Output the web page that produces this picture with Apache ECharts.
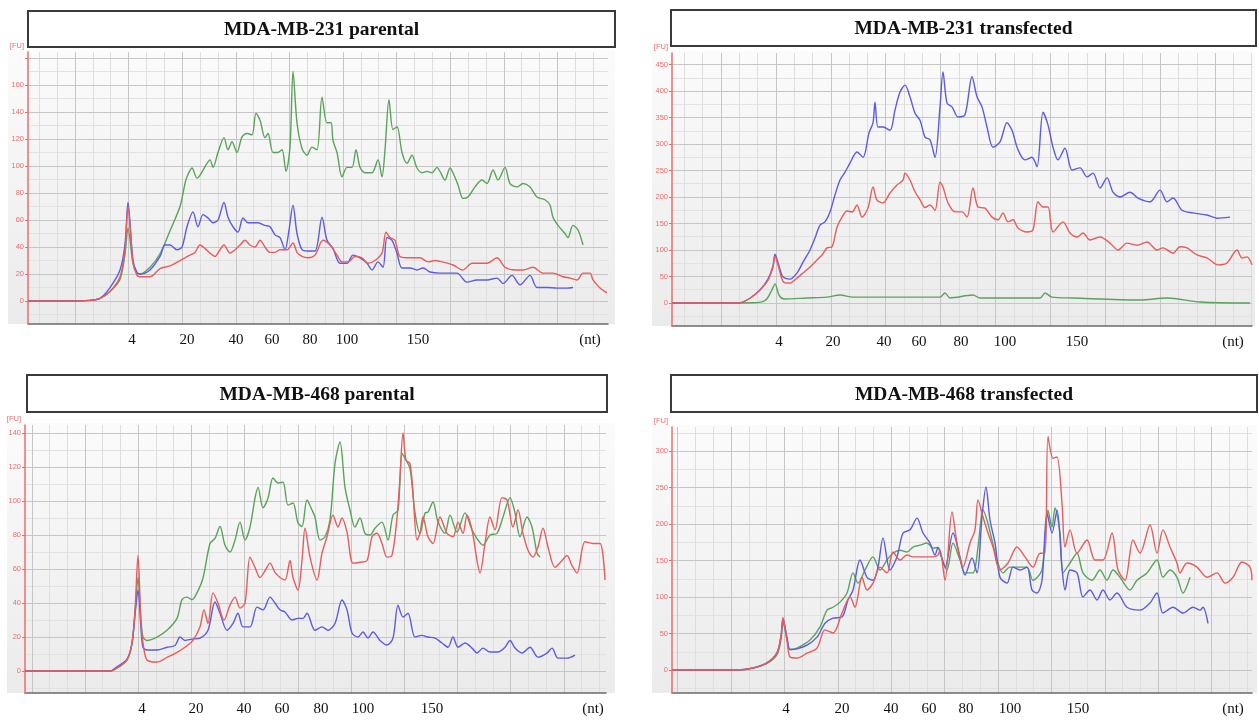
<!DOCTYPE html>
<html>
<head>
<meta charset="utf-8">
<script src="https://cdn.jsdelivr.net/npm/echarts@6/dist/echarts.min.js"></script>
<style>
  html, body { margin: 0; padding: 0; background: #fff; }
  #chart { width: 1259px; height: 723px; }
</style>
</head>
<body>
<div id="chart"></div>
<script>
// ---- data (x = migration time index, y = fluorescence [FU]) ----
const titles = ['MDA-MB-231 parental', 'MDA-MB-231 transfected', 'MDA-MB-468 parental', 'MDA-MB-468 transfected'];
const ntLabels = ['4', '20', '40', '60', '80', '100', '150', '(nt)'];
// where each size label sits on the time axis of each panel
const ntPos = [
  [104, 159, 208, 244, 282, 319, 390, 562],
  [107, 161, 212, 247, 289, 333, 405, 561],
  [117, 171, 219, 257, 296, 338, 407, 568],
  [114, 170, 219, 257, 294, 338, 406, 561]
];
const yLabels = [
  [0, 20, 40, 60, 80, 100, 120, 140, 160],
  [0, 50, 100, 150, 200, 250, 300, 350, 400, 450],
  [0, 20, 40, 60, 80, 100, 120, 140],
  [0, 50, 100, 150, 200, 250, 300]
];

// MDA-MB-231 parental
const p1Green = [[0,0],[40,0],[62,0.5],[72,2],[82,7],[92,16],[97,35],[100,54],[105,28],[109,21],[112,20],[122,25],[132,35],[142,52],[152,70],[157,87],[159,92],[164,98.5],[169,91],[179,102],[182,104.5],[185,99],[190,110],[196,121],[200,112],[204,118],[209,110],[214,121.5],[219,124],[224,123],[228,139],[232,134],[237,121],[240,124],[245,110],[250,110],[254,112],[258,96],[262,114],[265,170],[269,132],[274,113],[279,108],[284,114],[289,112],[294,151],[299,132],[303,132],[305,119],[309,110],[314,92],[319,99],[324,99],[328,112],[332,99],[337,95],[344,95],[350,104.5],[354,92],[357,112],[361,149],[365,127],[369,129],[374,110],[379,102],[384,108],[389,98.5],[394,95],[399,96],[404,95],[409,99],[412,96],[417,89.6],[422,98.5],[425,95],[430,86],[435,76],[440,77],[447,84.5],[454,89.6],[459,87],[465,97],[470,89.6],[477,99],[482,87],[489,84.5],[495,87],[502,84.5],[509,77],[517,75],[522,71],[525,62],[530,56],[537,50],[540,47],[545,56],[550,52.6],[555,41.5]];
const p1Blue = [[0,0],[40,0],[62,0.5],[72,2],[82,10],[92,23],[97,42],[100,73],[105,30],[109,21],[112,20],[122,23],[132,33],[137,41.5],[142,41.5],[149,38],[154,40],[159,55],[165,66],[170,55],[175,64],[180,61.5],[185,58],[190,60],[196,73],[200,62],[205,55],[210,51],[215,61.5],[220,58],[225,58],[230,58],[237,56],[242,55],[247,49],[252,47],[257,38],[261,52.6],[265,71],[269,50],[274,38],[280,37],[287,37],[294,62],[299,45],[305,39],[312,28],[319,28],[325,34],[332,32],[339,28],[344,23],[350,29],[355,25],[359,47],[364,45],[369,35.5],[374,24.5],[382,24.5],[389,23],[395,24.5],[402,21.5],[412,20.7],[422,20.7],[429,20.7],[439,14],[449,15.6],[459,15.6],[469,17],[475,13],[484,19],[492,12],[502,19],[509,10],[519,10],[529,9.6],[539,9.6],[545,10]];
const p1Red = [[0,0],[40,0],[62,0.5],[72,2],[82,7],[92,18],[97,38],[100,70],[105,28],[109,19],[112,18],[122,18],[132,24],[142,26],[152,30],[157,32],[162,34],[167,36],[172,41.5],[177,39],[182,35.5],[187,33],[192,38],[196,41.5],[202,35.5],[207,38],[212,41.5],[217,45],[222,41.5],[227,40],[232,45],[237,40],[242,36],[247,36],[252,38],[259,38],[265,43],[269,36],[274,33],[280,32],[287,34],[295,45],[302,41.5],[309,34],[314,29],[320,29],[327,33],[334,32],[340,28],[347,30],[354,35.5],[358,51],[362,47],[367,45],[372,33],[382,32],[392,32],[400,29],[407,30],[414,29],[425,26.7],[435,23],[444,28],[452,28],[459,28],[469,32],[477,25],[487,23],[495,23],[505,25],[515,20.7],[525,20.7],[535,18],[542,17],[549,15.6],[555,20.7],[562,20.7],[565,15.6],[572,9.6],[579,6]];

// MDA-MB-231 transfected
const p2Green = [[0,0],[58,0],[80,0.5],[90,2],[95,8],[100,25],[103,36],[107,15],[112,7.5],[135,9.4],[155,11],[168,15],[181,11],[215,11],[248,11],[268,11],[273,19],[278,9.4],[301,15],[308,9.4],[368,9.4],[373,19],[380,11],[401,9.4],[468,5.7],[495,9.4],[528,2],[578,0]];
const p2Blue = [[0,0],[58,0],[68,0.6],[78,9],[88,24.5],[96,45],[101,70],[103,92],[106,76],[110,52],[113,47],[118,45],[125,56.6],[131,77],[138,100],[143,122.6],[148,147],[153,153],[158,171.7],[163,204],[168,232],[173,247],[178,264],[185,285],[191,275],[197,321],[201,340],[203,379],[206,332],[211,332],[218,326],[223,364],[228,398],[233,411],[238,389],[243,358],[248,345],[253,313],[258,308],[263,275],[268,370],[271,436],[275,377],[280,370],[286,351],[293,355],[300,427],[305,389],[310,370],[315,332],[321,294],[328,304],[335,340],[340,326],[346,289],[353,270],[360,275],[365,257],[371,360],[376,336],[381,294],[386,270],[393,292],[400,251],[408,255],[415,238],[421,245],[428,217],[435,236],[441,209],[448,200],[458,209],[466,198],[478,191],[488,213],[495,191],[501,198],[510,175],[521,170],[535,166],[545,160],[558,162]];
const p2Red = [[0,0],[58,0],[68,0.6],[78,9],[88,24.5],[96,43],[101,68],[103,88],[106,72],[110,45],[113,38],[118,37.7],[125,47],[131,56.6],[138,68],[145,81],[150,90.6],[155,104],[160,106],[165,143],[170,162],[175,173.6],[180,171.7],[185,185],[190,162],[196,179],[201,219],[205,194],[211,189],[218,207.5],[225,222.6],[231,232],[233,245],[238,232],[243,210],[248,195],[253,180],[258,185],[263,175],[268,228],[271,219],[276,189],[283,172],[290,172],[295,162],[301,217],[306,181],[313,179],[320,162],[326,157],[331,170],[336,153],[341,157],[346,141.5],[355,134],[361,138],[366,191],[371,181],[376,181],[381,134],[391,153],[398,132],[405,124.5],[411,132],[418,119],[428,124.5],[438,113],[446,100],[455,113],[465,109],[475,115],[485,100],[491,104],[501,94],[508,106],[515,104],[525,90.6],[535,85],[546,72],[555,75.5],[565,100],[570,85],[575,87],[580,72]];

// MDA-MB-468 parental
const p3Green = [[0,0],[85,0],[92,1.8],[102,6.5],[107,16],[110,34],[113,55],[116,30],[118,20],[122,18],[132,20],[142,24],[152,31],[157,42],[162,43.5],[167,42],[172,46],[178,54.7],[185,75],[190,78],[195,85],[200,74],[205,70],[210,77],[215,87.6],[220,77],[225,84.7],[230,101.7],[233,108],[238,96],[243,101.7],[248,113.5],[253,110.6],[258,111],[263,97.6],[268,98.8],[273,87],[277,85],[282,100.6],[287,94.7],[290,90.6],[295,77],[300,79],[305,88.8],[310,122],[315,134.7],[320,108],[325,94.7],[330,84.7],[335,90],[340,81],[345,80],[350,84],[357,87.6],[363,77],[368,91.7],[373,94.7],[377,128],[380,125],[385,119],[390,93],[395,81],[400,93],[403,93.5],[408,99.4],[413,87.6],[420,81],[425,91.7],[432,81.7],[440,93],[447,83],[453,77],[458,74],[465,80],[472,81],[478,90.6],[485,102],[490,93],[495,79],[502,90.6],[507,84.7],[512,69.4],[515,67]];
const p3Blue = [[0,0],[85,0],[92,2.5],[102,7],[107,16.5],[110,33],[113,47.6],[116,25],[118,14],[122,12.4],[132,12.4],[142,14],[150,15],[155,20],[160,18],[167,18.8],[175,19.4],[183,24],[190,40.6],[195,34],[202,24],[208,28],[213,34],[218,26],[225,26],[232,37.6],[238,36],[245,43.5],[250,40],[255,36],[260,34.7],[267,30],[273,31],[278,31],[282,34],[290,24],[297,26],[303,24],[310,28],[317,41.8],[322,36],[327,22.4],[333,20],[338,23],[343,19.4],[348,23],[355,18],[362,15.3],[368,19.4],[373,38.8],[378,31.8],[383,34],[390,20],[397,21],[403,20],[410,19.4],[417,16.5],[423,14],[428,20],[433,14],[440,16.5],[447,13.5],[452,10.6],[458,13.5],[465,11.2],[473,11.2],[480,14],[485,18],[490,13.5],[497,10.6],[505,14],[513,8.2],[522,10.6],[527,13.5],[533,7.6],[542,7.6],[550,9.4]];
const p3Red = [[0,0],[85,0],[92,1.8],[102,6.5],[107,16.5],[110,36],[113,68],[116,28],[118,16.5],[122,6.5],[132,5.3],[142,8],[152,11],[160,14],[168,18],[175,26],[179,36],[183,28],[188,46],[193,40],[199,30],[205,38.8],[210,43.5],[215,37],[220,40],[225,67],[230,61],[235,55],[240,59],[245,63.5],[250,58],[255,55],[260,53.5],[265,65],[268,55],[273,47.6],[277,65],[280,84],[285,67],[292,53.5],[297,69.4],[302,79],[308,91.7],[313,84.7],[317,90],[322,81.7],[328,63.5],[335,64],[342,65],[347,79],[352,81],[357,75],[362,67],[367,68],[372,90],[375,114],[378,140],[381,124],[385,122],[388,104.6],[392,77],[395,81],[398,90.6],[403,79],[408,75],[415,90.6],[422,81],[428,79],[433,87.6],[438,81],[442,91.7],[447,83],[452,65],[455,57.6],[460,75],[465,90.6],[470,83],[477,102],[482,100.6],[488,84.7],[493,94.7],[498,81],[503,71],[508,67],[513,73],[518,84],[523,73],[530,61],[537,65],[542,68],[547,62],[552,57.6],[560,76],[568,75],[575,75],[580,53.5]];

// MDA-MB-468 transfected
const p4Green = [[0,0],[65,0],[81,2.5],[95,9],[105,21],[109,42],[111,65],[115,42],[118,28],[125,30],[138,41],[148,59],[155,82],[161,86],[168,93],[175,105.5],[181,133],[186,119],[193,137],[201,155],[208,137],[215,150.7],[221,160],[228,164],[235,161.7],[241,168.5],[248,171],[255,174],[261,167],[266,168],[268,160],[275,137],[281,174],[288,150.7],[293,133],[301,133],[306,168.5],[311,219],[315,205.5],[320,178],[325,150.7],[331,133],[338,141],[346,141],[355,141],[361,123],[370,137],[376,219],[380,196],[383,222],[388,187.7],[391,133],[398,146.6],[405,160],[411,133],[420,123],[428,137],[435,123],[441,137],[448,127],[458,109.6],[465,123],[475,133],[485,150.7],[491,127],[498,137],[505,127],[511,105.5],[518,127]];
const p4Blue = [[0,0],[65,0],[81,2.7],[95,10],[105,24],[109,46],[111,70],[115,45],[118,28],[125,29],[135,34],[145,45],[153,64],[161,71],[170,72.6],[176,96],[181,109.6],[188,150.7],[195,127],[201,123],[206,141],[211,181],[218,137],[225,155],[231,187.7],[238,192],[245,208],[251,187.7],[258,174],[263,157.5],[266,168],[273,141],[281,187.7],[288,155],[293,130],[300,153.4],[305,133],[310,209.6],[314,250.7],[318,205.5],[323,174],[328,127],[335,119],[341,141],[348,137],[355,141],[360,109.6],[365,105.5],[370,123],[375,215],[380,187.7],[385,219],[390,141],[393,109.6],[398,137],[405,133],[411,100],[418,109.6],[425,96],[431,109.6],[438,96],[445,105.5],[455,86],[468,82],[478,91.8],[485,105.5],[491,78],[501,86],[511,78],[521,86],[528,82],[531,86],[536,64]];
const p4Red = [[0,0],[65,0],[81,2.7],[95,9.6],[105,23],[109,47],[111,72],[115,40],[118,17.8],[125,16.4],[135,23],[145,30],[153,55],[161,50.7],[170,78],[178,100],[183,86],[190,127],[195,109.6],[201,119],[208,141],[215,133],[221,161.7],[228,150.7],[235,157.5],[241,155],[248,155],[255,155],[261,155],[266,157.5],[268,164],[273,123],[280,216.5],[285,174],[291,141],[298,174],[303,192],[306,233],[311,209.6],[316,187.7],[321,168.5],[328,137],[336,146.6],[345,168.5],[353,155],[361,141],[368,160],[373,160],[376,320],[381,290],[385,292],[390,228.8],[393,168.5],[398,192],[405,160],[415,178],[423,150.7],[431,150.7],[440,187.7],[446,137],[453,123],[461,178],[468,160],[478,198.6],[485,160],[491,192],[498,168.5],[505,146.6],[508,133],[515,146.6],[525,141],[535,127],[545,133],[553,119],[561,127],[570,148],[578,141],[580,123]];

const panelData = [
  [p1Green, p1Blue, p1Red],
  [p2Green, p2Blue, p2Red],
  [p3Green, p3Blue, p3Red],
  [p4Green, p4Blue, p4Red]
];

// ---- layout ----
const panels = [
  { left: 28,  top: 52,  width: 580, height: 272, yMin: -17,  yMax: 184.4, yStep: 20, gx0: 47, gxStep: 53.6,
    bg: [8, 50, 607, 274],   box: [28, 11, 587, 36] },
  { left: 672, top: 53,  width: 580, height: 273, yMin: -43.4, yMax: 471.7, yStep: 50, gx0: 49, gxStep: 54.9,
    bg: [652, 51, 603, 275], box: [671, 10, 585, 36] },
  { left: 25,  top: 425, width: 581, height: 268, yMin: -12.9, yMax: 144.7, yStep: 20, gx0: 60, gxStep: 53.2,
    bg: [7, 423, 608, 270],  box: [27, 375, 580, 37] },
  { left: 672, top: 427, width: 580, height: 266, yMin: -31.5, yMax: 332.9, yStep: 50, gx0: 59, gxStep: 53.4,
    bg: [652, 425, 605, 268], box: [671, 375, 586, 37] }
];

const colors = ['#5aa35a', '#5b5be3', '#e85c5c'];
const axisRed = '#ef6b6b';

function ladder(first, step, lo, hi) {
  const out = [];
  let v = first;
  while (v - step >= lo) v -= step;
  for (; v <= hi + 1e-6; v += step) out.push(+v.toFixed(3));
  return out;
}

const grids = [], xAxes = [], yAxes = [], series = [], graphics = [];

panels.forEach((p, i) => {
  grids.push({ left: p.left, top: p.top, width: p.width, height: p.height, outerBoundsMode: 'none' });

  const pos = ntPos[i];
  // major vertical lines + size labels
  xAxes.push({
    type: 'value', gridIndex: i, min: 0, max: p.width, z: 2,
    axisLine: { show: true, onZero: false, lineStyle: { color: '#6b6b6b', width: 1.5 } },
    axisTick: { show: false, customValues: ladder(p.gx0, p.gxStep, 0, p.width) },
    axisLabel: {
      show: true, customValues: pos, margin: 9, hideOverlap: false,
      color: '#111', fontFamily: '"Liberation Serif", "Times New Roman", serif', fontSize: 15,
      formatter: v => { const k = pos.findIndex(q => Math.abs(q - v) < 0.01); return k >= 0 ? ntLabels[k] : ''; }
    },
    splitLine: { show: true, lineStyle: { color: '#c6c6c6', width: 1 } }
  });
  // minor vertical lines
  xAxes.push({
    type: 'value', gridIndex: i, min: 0, max: p.width, z: 1,
    axisLine: { show: false }, axisLabel: { show: false },
    axisTick: { show: false, customValues: ladder(p.gx0, p.gxStep / 3, 0, p.width) },
    splitLine: { show: true, lineStyle: { color: '#dedede', width: 1 } }
  });

  yAxes.push({
    type: 'value', gridIndex: i, min: p.yMin, max: p.yMax, z: 3,
    name: '[FU]', nameLocation: 'end', nameGap: 2,
    nameTextStyle: { color: axisRed, fontSize: 7.5, align: 'right', padding: [0, 4, 0, 0], fontFamily: '"Liberation Sans", Arial, sans-serif' },
    axisLine: { show: true, onZero: false, lineStyle: { color: axisRed, width: 1.5 } },
    axisTick: { show: true, length: 3, customValues: ladder(0, p.yStep, p.yMin, p.yMax), lineStyle: { color: axisRed } },
    axisLabel: { customValues: yLabels[i], color: axisRed, fontSize: 7.5, margin: 4, fontFamily: '"Liberation Sans", Arial, sans-serif' },
    splitLine: { show: true, lineStyle: { color: '#c6c6c6', width: 1 } }
  });
  yAxes.push({
    type: 'value', gridIndex: i, min: p.yMin, max: p.yMax, z: 1,
    axisLine: { show: false }, axisLabel: { show: false },
    axisTick: { show: false, customValues: ladder(0, p.yStep / 2, p.yMin, p.yMax) },
    splitLine: { show: true, lineStyle: { color: '#e2e2e2', width: 1 } }
  });

  panelData[i].forEach((d, k) => {
    series.push({
      type: 'line', xAxisIndex: 2 * i, yAxisIndex: 2 * i, data: d,
      showSymbol: false, smooth: 0.3, silent: true, z: 5,
      lineStyle: { color: colors[k], width: 1.4 }
    });
  });

  // panel background
  graphics.push({
    type: 'rect', z: -100, silent: true,
    shape: { x: p.bg[0], y: p.bg[1], width: p.bg[2], height: p.bg[3] },
    style: { fill: { type: 'linear', x: 0, y: 0, x2: 0, y2: 1,
      colorStops: [{ offset: 0, color: '#fbfbfb' }, { offset: 1, color: '#ebebeb' }] } }
  });
  // title box
  graphics.push({
    type: 'rect', z: 10, silent: true,
    shape: { x: p.box[0], y: p.box[1], width: p.box[2], height: p.box[3] },
    style: { fill: '#fff', stroke: '#3a3a3a', lineWidth: 2 }
  });
  graphics.push({
    type: 'text', z: 11, silent: true,
    x: p.box[0] + p.box[2] / 2, y: p.box[1] + p.box[3] / 2 + 1,
    style: { text: titles[i], fill: '#111', align: 'center', verticalAlign: 'middle',
      font: 'bold 19.5px "Liberation Serif", "Times New Roman", serif' }
  });
});

const chart = echarts.init(document.getElementById('chart'), null, { renderer: 'canvas' });
chart.setOption({
  animation: false,
  backgroundColor: '#fff',
  grid: grids,
  xAxis: xAxes,
  yAxis: yAxes,
  series: series,
  graphic: graphics
});
</script>
</body>
</html>
